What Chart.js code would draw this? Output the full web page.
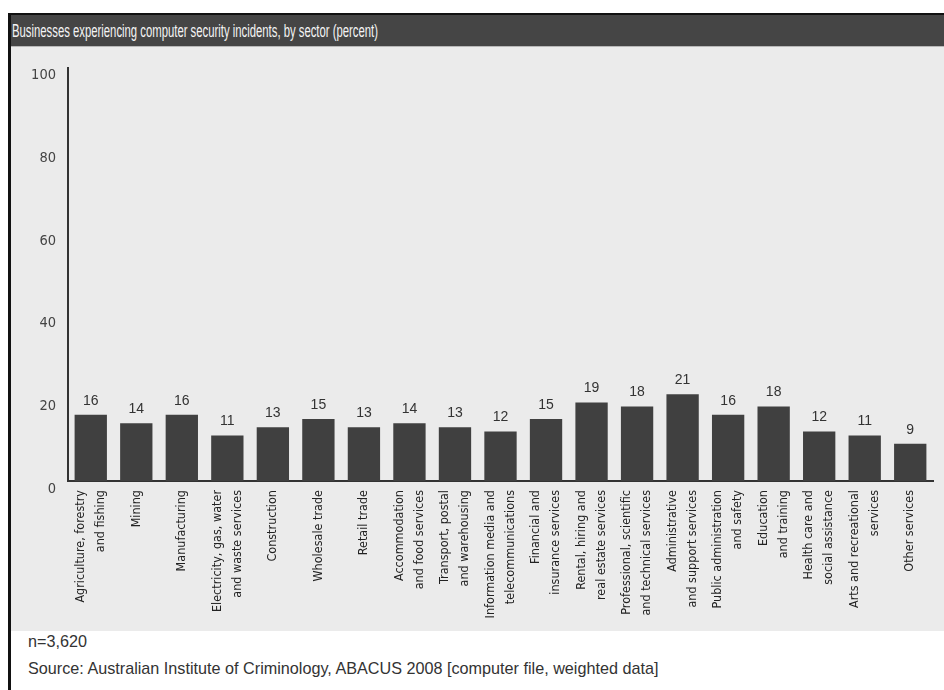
<!DOCTYPE html>
<html>
<head>
<meta charset="utf-8">
<script src="https://cdn.jsdelivr.net/npm/chart.js@4.4.1/dist/chart.umd.min.js"></script>
<style>
  html, body { margin: 0; padding: 0; background: #fff; width: 944px; height: 690px; overflow: hidden; }
  .frame { position: absolute; left: 8px; top: 13px; right: 0; bottom: 0; border-left: 3px solid #111; border-top: 2px solid #111; }
  .title { height: 31px; background: #454545; border-bottom: 1px solid #b8b8b8; color: #f4f4f4;
           font-family: "Liberation Sans", Arial, sans-serif; font-size: 18px; line-height: 33px;
           padding-left: 1px; white-space: nowrap; overflow: hidden; }
  .title span { display: inline-block; transform-origin: left center; }
  .plot { height: 584px; background: #ebebeb; position: relative; }
  .footer div { position: absolute; left: 28px; font-family: "Liberation Sans", Arial, sans-serif; font-size: 16.2px; line-height: 18px; color: #333; white-space: nowrap; }
</style>
</head>
<body>
<div class="frame">
  <div class="title"><span id="title">Businesses experiencing computer security incidents, by sector (percent)</span></div>
  <div class="plot"><canvas id="myChart" width="933" height="584"></canvas></div>
</div>
<div class="footer">
  <div style="top:632px">n=3,620</div>
  <div style="top:659px">Source: Australian Institute of Criminology, ABACUS 2008 [computer file, weighted data]</div>
</div>
<script>
(() => {
    'use strict'

    const sectors = [
        ['Agriculture, forestry', 'and fishing'],
        'Mining',
        'Manufacturing',
        ['Electricity, gas, water', 'and waste services'],
        'Construction',
        'Wholesale trade',
        'Retail trade',
        ['Accommodation', 'and food services'],
        ['Transport, postal', 'and warehousing'],
        ['Information media and', 'telecommunications'],
        ['Financial and', 'insurance services'],
        ['Rental, hiring and', 'real estate services'],
        ['Professional, scientific', 'and technical services'],
        ['Administrative', 'and support services'],
        ['Public administration', 'and safety'],
        ['Education', 'and training'],
        ['Health care and', 'social assistance'],
        ['Arts and recreational', 'services'],
        'Other services'
    ]
    const percent = [16, 14, 16, 11, 13, 15, 13, 14, 13, 12, 15, 19, 18, 21, 16, 18, 12, 11, 9]
    const yTicks = [0, 20, 40, 60, 80, 100]

    // half-height spacer lines so one- and two-line labels both centre on their bar
    const tickLabels = sectors.map(s => Array.isArray(s) ? [s[0], '', s[1]] : ['', s])

    // squeeze the title to the condensed width it has in the print
    const t = document.getElementById('title')
    const w = t.getBoundingClientRect().width
    t.style.transform = 'scaleX(' + (366 / w) + ')'

    // numbers above the bars
    const barValues = {
        id: 'barValues',
        afterDatasetsDraw(chart) {
            const c = chart.ctx
            const meta = chart.getDatasetMeta(0)
            c.save()
            c.font = '14px "Liberation Sans", Arial, sans-serif'
            c.fillStyle = '#333'
            c.textAlign = 'center'
            c.textBaseline = 'bottom'
            meta.data.forEach((bar, i) => {
                c.fillText(String(percent[i]), bar.x, bar.y - 7)
            })
            c.restore()
        }
    }

    const ctx = document.getElementById('myChart')
    // eslint-disable-next-line no-unused-vars
    const myChart = new Chart(ctx, {
        type: 'bar',
        data: {
            labels: tickLabels,
            datasets: [{
                data: percent,
                backgroundColor: '#404040',
                borderWidth: 0,
                barPercentage: 0.71,
                categoryPercentage: 1
            }]
        },
        plugins: [barValues],
        options: {
            responsive: false,
            animation: false,
            layout: { padding: { top: 10, right: 11, left: 0, bottom: 0 } },
            plugins: {
                legend: { display: false },
                tooltip: { enabled: false }
            },
            scales: {
                x: {
                    grid: { display: false, drawTicks: false },
                    border: { color: '#333', width: 2 },
                    ticks: {
                        autoSkip: false,
                        maxRotation: 90,
                        minRotation: 90,
                        padding: 9,
                        labelOffset: -10,
                        color: '#222',
                        font: { family: '"DejaVu Sans Condensed", sans-serif', size: 12.5, lineHeight: '10px' }
                    },
                    afterFit: s => { s.height = 150 }
                },
                y: {
                    min: 0,
                    max: 100,
                    afterBuildTicks: s => { s.ticks = yTicks.map(v => ({ value: v })) },
                    grid: { display: false, drawTicks: false },
                    border: { color: '#333', width: 2 },
                    ticks: {
                        padding: 12,
                        labelOffset: 8,
                        color: '#444',
                        font: { family: '"DejaVu Sans Condensed", sans-serif', size: 14.5 }
                    },
                    afterFit: s => { s.width = 57 }
                }
            }
        }
    })
})()
</script>
</body>
</html>
